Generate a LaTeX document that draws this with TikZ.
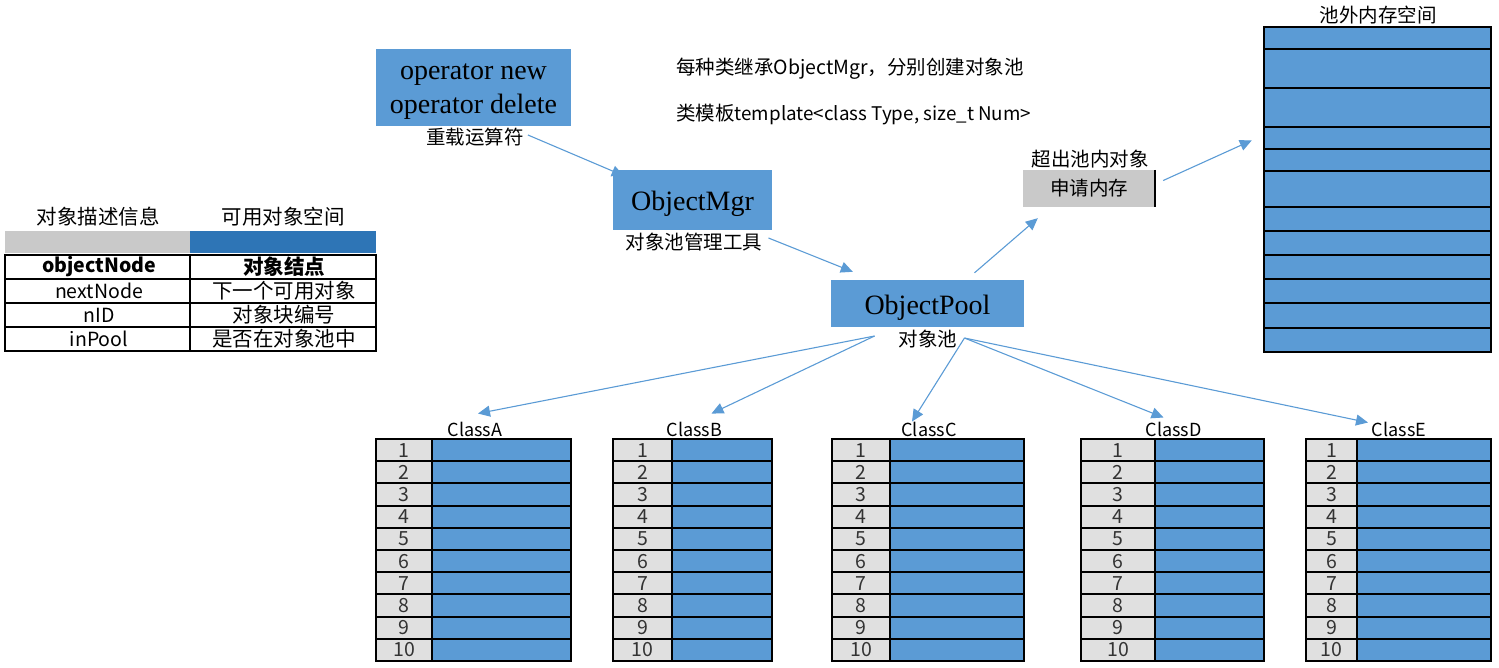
\documentclass[tikz,border=0pt]{standalone}
\usepackage{fontspec}
\setmainfont{Noto Sans CJK SC}
\newfontfamily\tnr{Liberation Serif}
\usetikzlibrary{arrows.meta,calc}
\definecolor{boxblue}{HTML}{5B9BD5}
\definecolor{darkblue}{HTML}{2E75B6}
\definecolor{hdrgray}{HTML}{C9C9C9}
\definecolor{cellgray}{HTML}{E0E0E0}
\tikzset{
  conn/.style={draw=boxblue, line width=1.1pt, -{Triangle[length=12pt,width=11pt]}},
  bluebox/.style={fill=boxblue, inner sep=0pt, font=\tnr\fontsize{28}{34}\selectfont, align=center},
  cjk/.style={font=\fontsize{19.5}{22}\selectfont, inner sep=0pt},
  hdr/.style={font=\fontsize{20.5}{23}\selectfont, inner sep=0pt},
  cellL/.style={font=\fontsize{19.5}{22}\selectfont, inner sep=0pt},
  cellC/.style={font=\fontsize{20.5}{22}\selectfont, inner sep=0pt},
  small/.style={font=\fontsize{18}{21}\selectfont, inner sep=0pt},
  num/.style={font=\fontsize{19.5}{20}\selectfont, inner sep=0pt, text=black!80},
  grid/.style={draw=black, line width=2pt},
}
\begin{document}
\begin{tikzpicture}[x=1pt,y=-1pt]
\useasboundingbox (0,0) rectangle (1499,667);

% ---- left table ----
\node[hdr] (hd1) at (98,217) {对象描述信息};
\node[hdr] (hd2) at (283,217) {可用对象空间};
\fill[hdrgray] (5,231) rectangle (190,253);
\fill[darkblue] (190,231) rectangle (376,253);
\draw[grid] (5,255) rectangle (376,351);
\foreach \yy in {279,303,327} \draw[grid] (5,\yy) -- (376,\yy);
\draw[grid] (190,255) -- (190,351);
\node[cellL,font=\fontsize{19.5}{22}\selectfont\bfseries] (r1a) at (99,267) {objectNode};
\node[cellC,font=\fontsize{20.5}{22}\selectfont\bfseries] (r1b) at (284,267) {对象结点};
\node[cellL] (r2a) at (99,291) {nextNode};
\node[cellC] (r2b) at (284,291) {下一个可用对象};
\node[cellL] (r3a) at (99,315) {nID};
\node[cellC] (r3b) at (284,315) {对象块编号};
\node[cellL] (r4a) at (99,339) {inPool};
\node[cellC] (r4b) at (284,339) {是否在对象池中};

% ---- main boxes ----
\node[bluebox, minimum width=195pt, minimum height=77pt, text height=58pt, text depth=6pt] (op) at (473.5,87.5) {operator new\\operator delete};
\node[cjk] (opl) at (475,137) {重载运算符};
\node[bluebox, minimum width=159pt, minimum height=60pt, text height=27pt, text depth=6pt] (mgr) at (692.5,200) {ObjectMgr};
\node[cjk] (mgrl) at (694,242) {对象池管理工具};
\node[bluebox, minimum width=193pt, minimum height=47pt, text height=27pt, text depth=6pt] (pool) at (927.5,303.5) {ObjectPool};
\node[cjk] (pooll) at (928,339) {对象池};

\node[cjk, anchor=west] (note1) at (676,69) {每种类继承ObjectMgr，分别创建对象池};
\node[cjk, anchor=west] (note2) at (676,115) {类模板{\fontsize{18.8}{22}\selectfont template<class Type, size\_t Num>}};

% ---- request memory ----
\node[cjk] (ovl) at (1090,159) {超出池内对象};
\node[cjk, fill=hdrgray, minimum width=132pt, minimum height=37pt] (req) at (1089,188.5) {申请内存};
\draw[line width=2pt] (req.north east) -- (req.south east);

% ---- outside memory ----
\node[cjk] (meml) at (1378,15) {池外内存空间};
\fill[boxblue] (1264,26.7) rectangle (1491,352);
\node[inner sep=0, minimum width=227pt, minimum height=325.3pt] (mem) at (1377.5,189.35) {};
\foreach \yy in {49,88,127,149,171,207,231,255,279,303,328} \draw[grid] (1264,\yy) -- (1491,\yy);
\draw[grid] (1264,26.7) rectangle (1491,352);

% ---- class tables ----
\foreach \n/\l/\d/\r/\t in {A/376/432/571/475, B/613/672/772/694.5, C/832/890/1024/929, D/1081/1155/1264/1173.5, E/1306/1357/1491/1399} {
  \node[small] (t\n) at (\t,429) {Class\n};
  \foreach \i in {1,...,10} {
    \pgfmathsetmacro\ya{439+(\i-1)*22.2}
    \pgfmathsetmacro\yb{439+\i*22.2}
    \fill[cellgray] (\l,\ya) rectangle (\d,\yb);
    \fill[boxblue] (\d,\ya) rectangle (\r,\yb);
    \node[num] (c\n\i) at ({(\l+\d)/2},{\ya+11.1}) {\i};
    \draw[grid] (\l,\ya) -- (\r,\ya);
  }
  \draw[grid] (\l,439) rectangle (\r,661);
  \draw[grid] (\d,439) -- (\d,661);
}

% ---- connectors ----
\draw[conn] ($(opl.east)+(4,-2)$) -- ($(mgr.north west)+(11,6)$);
\draw[conn] ($(mgrl.east)+(6,-4)$) -- ($(pool.north west)+(22,-8)$);
\draw[conn] ($(pool.north)+(47,-7)$) -- ($(req.south west)+(15,11)$);
\draw[conn] ($(req.east)+(8,-8)$) -- ($(mem.west)+(-12,-49)$);
\coordinate (pl) at ($(pooll.west)+(-24,-3)$);
\coordinate (pr) at ($(pooll.east)+(7,-1)$);
\draw[conn] (pl) -- ($(tA.north)+(3,-8)$);
\draw[conn] (pl) -- ($(tB.north)+(17,-8)$);
\draw[conn] (pr) -- ($(tC.north)+(-17,0)$);
\draw[conn] (pr) -- ($(tD.north)+(-10,-4)$);
\draw[conn] (pr) -- ($(tE.north)+(-31,1)$);
\end{tikzpicture}
\end{document}
